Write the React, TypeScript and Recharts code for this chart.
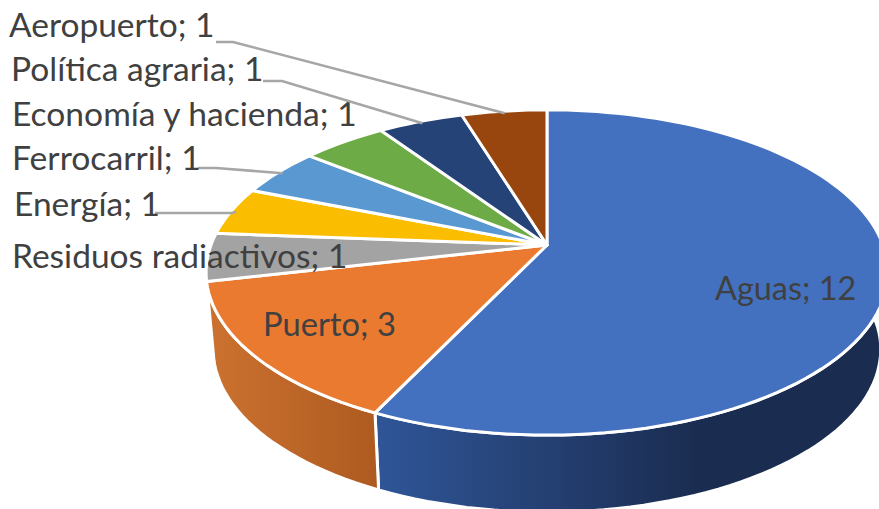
import React from "react";
import { PieChart, Pie } from "recharts";

const NAMES = ["Aguas", "Puerto", "Residuos radiactivos", "Energía", "Ferrocarril", "Economía y hacienda", "Política agraria", "Aeropuerto"];
const VALUES = [12, 3, 1, 1, 1, 1, 1, 1];
const COLORS = ["#4371bf", "#e97a30", "#a3a3a3", "#fbbd00", "#5a98d2", "#6dab46", "#254377", "#98460e"];
const SIDE_FILLS = ["url(#sideBlue)", "url(#sideOrange)", "none", "none", "none", "none", "none", "none"];

const topData = NAMES.map((name, i) => ({ name, value: VALUES[i], fill: COLORS[i] }));
const sideData = NAMES.map((name, i) => ({ name, value: VALUES[i], fill: SIDE_FILLS[i] }));

// Perspective of the tilted disc
const TILT_K = 0.169;
const X_SCALE = 1;
const Y_SCALE = 158 / 336;
const DEPTH = 77;
const DEPTH_SHRINK = 0.979;

function rim(cx: number, cy: number, r: number, angleDeg: number) {
  const t = ((90 - angleDeg) * Math.PI) / 180;
  const X = Math.sin(t);
  const Y = -Math.cos(t);
  const d = 1 - TILT_K * Y;
  return [cx + (r * X_SCALE * X) / d, cy + (r * Y_SCALE * Y) / d];
}

function arcPoints(cx: number, cy: number, r: number, a0: number, a1: number) {
  const n = Math.max(2, Math.ceil(Math.abs(a1 - a0) / 2));
  const pts: number[][] = [];
  for (let i = 0; i <= n; i++) pts.push(rim(cx, cy, r, a0 + ((a1 - a0) * i) / n));
  return pts;
}

const toPath = (pts: number[][]) => pts.map((p, i) => `${i ? "L" : "M"}${p[0].toFixed(1)},${p[1].toFixed(1)}`).join(" ");

function TopSlice(props: any) {
  const { cx, cy, outerRadius, startAngle, endAngle, fill } = props;
  const pts = arcPoints(cx, cy, outerRadius, startAngle, endAngle);
  return <path d={`M${cx},${cy} ${toPath(pts).replace("M", "L")} Z`} fill={fill} stroke="#ffffff" strokeWidth={3} strokeLinejoin="round" />;
}

function SideSlice(props: any) {
  const { cx, cy, outerRadius, startAngle, endAngle, fill } = props;
  if (fill === "none") return <g />;
  const top = arcPoints(cx, cy, outerRadius, startAngle, endAngle);
  const bottom = top.map((p) => [cx + (p[0] - cx) * DEPTH_SHRINK, p[1] + DEPTH]).reverse();
  return <path d={`${toPath(top)} ${toPath(bottom).replace("M", "L")} Z`} fill={fill} stroke="#ffffff" strokeWidth={3} strokeLinejoin="round" />;
}

// Hand-placed labels of the reference: text start, baseline, size, and leader start/bend
const LABEL_X = [715, 263, 12, 14, 12, 12, 11, 9];
const LABEL_Y = [300, 336, 268, 216, 170, 126, 81, 37];
const LABEL_SIZE = [32.4, 32.7, 33.5, 33.5, 33.7, 33.6, 33.5, 33.5];
const LEADER_START: (number[] | null)[] = [null, null, null, [155, 213], [198, 168], null, [263, 81], [216, 42]];
const LEADER_BEND: (number[] | null)[] = [null, null, null, [232, 213], [216, 168], null, [282, 81], [233, 42]];

function SliceLabel(props: any) {
  const { cx, cy, outerRadius, midAngle, name, value, index } = props;
  const i = index as number;
  const start = LEADER_START[i];
  const bend = LEADER_BEND[i];
  const end = rim(cx, cy, outerRadius * 0.985, midAngle);
  return (
    <g>
      {start && bend && (
        <polyline points={`${start[0]},${start[1]} ${bend[0]},${bend[1]} ${end[0]},${end[1]}`} fill="none" stroke="#a6a6a6" strokeWidth={2.6} />
      )}
      <text x={LABEL_X[i]} y={LABEL_Y[i]} fill="#404040" fontFamily="Lato, sans-serif" fontSize={LABEL_SIZE[i]} textAnchor="start">
        {`${name}; ${value}`}
      </text>
    </g>
  );
}

export default function App() {
  return (
    <div style={{ position: "absolute", left: 0, top: 0, width: 879, height: 509, overflow: "hidden", background: "#fff" }}>
      <PieChart width={879} height={509} margin={{ top: 0, right: 0, bottom: 0, left: 0 }}>
        <defs>
          <linearGradient id="sideBlue" gradientUnits="userSpaceOnUse" x1={380} y1={0} x2={700} y2={0}>
            <stop offset="0%" stopColor="#2f5597" />
            <stop offset="100%" stopColor="#1a2c50" />
          </linearGradient>
          <linearGradient id="sideOrange" gradientUnits="userSpaceOnUse" x1={207} y1={0} x2={380} y2={0}>
            <stop offset="0%" stopColor="#cc7230" />
            <stop offset="100%" stopColor="#ad5a20" />
          </linearGradient>
        </defs>
        <Pie
          data={sideData}
          dataKey="value"
          nameKey="name"
          cx={547}
          cy={245}
          innerRadius={0}
          outerRadius={336}
          startAngle={90}
          endAngle={-270}
          isAnimationActive={false}
          shape={SideSlice}
          label={false}
          labelLine={false}
        />
        <Pie
          data={topData}
          dataKey="value"
          nameKey="name"
          cx={547}
          cy={245}
          innerRadius={0}
          outerRadius={336}
          startAngle={90}
          endAngle={-270}
          isAnimationActive={false}
          shape={TopSlice}
          label={SliceLabel}
          labelLine={false}
        />
      </PieChart>
    </div>
  );
}
